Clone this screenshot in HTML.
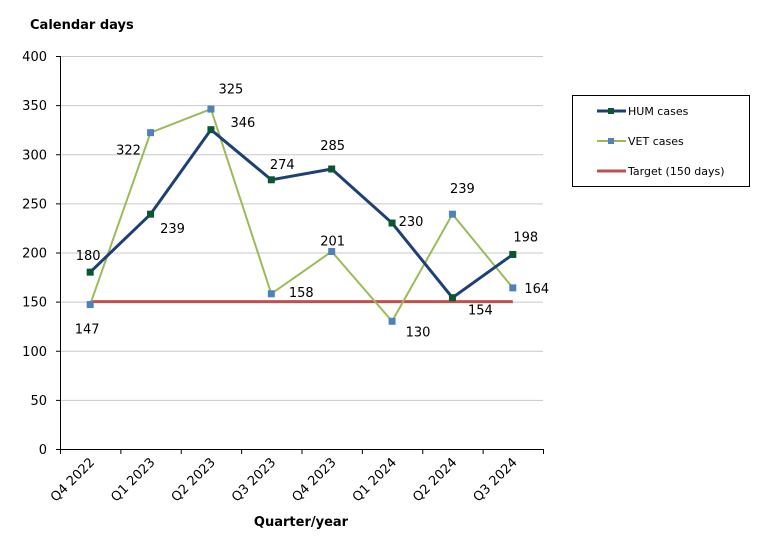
<!DOCTYPE html>
<html><head><meta charset="utf-8"><style>
body{margin:0;background:#fff;}
svg{display:block;font-family:"DejaVu Sans","Liberation Sans",sans-serif;}
</style></head><body>
<svg id="chart" width="779" height="538">
<text x="30" y="29" font-size="13" font-weight="bold">Calendar days</text>
<text x="301" y="526" font-size="13" font-weight="bold" text-anchor="middle">Quarter/year</text>
<g id="grid"></g><g id="axes"></g><g id="series"></g>
<g>
<rect x="572.5" y="95.5" width="177" height="91" fill="#fff" stroke="#000"/>
<g><line x1="597" y1="111" x2="626" y2="111" stroke="#1f3f77" stroke-width="3"/><rect x="608" y="108" width="6" height="6" fill="#0b5530"/><text x="628" y="115" font-size="11">HUM cases</text></g>
<g><line x1="597" y1="141" x2="626" y2="141" stroke="#9bbb59" stroke-width="2"/><rect x="608" y="138" width="6" height="6" fill="#4f81bd"/><text x="628" y="145" font-size="11">VET cases</text></g>
<g><line x1="597" y1="171" x2="626" y2="171" stroke="#c0504d" stroke-width="3"/><text x="628" y="175" font-size="11">Target (150 days)</text></g>
</g>
</svg>
<script>
const categories=["Q4 2022","Q1 2023","Q2 2023","Q3 2023","Q4 2023","Q1 2024","Q2 2024","Q3 2024"];
const humValues=[180,239,325,274,285,230,154,198];
const vetValues=[147,322,346,158,201,130,239,164];
const targetValue=150;
const yTicks=[0,50,100,150,200,250,300,350,400];
const humLabelOffsets=[[-2,-12],[22,19],[20,-36],[11,-11],[1,-19],[19,3],[28,17],[13,-13]];
const vetLabelOffsets=[[-3,29],[-22,22],[32,18],[30,3],[1,-6],[26,15],[10,-21],[24,5]];
const L=60,R=543,T=56,B=449,NS="http://www.w3.org/2000/svg";
const bw=(R-L)/categories.length;
function x(i){return L+bw*(i+0.5);}
function y(v){return B-(v/400)*(B-T);}
function mk(tag,attrs,parent,txt){const e=document.createElementNS(NS,tag);for(const k in attrs)e.setAttribute(k,attrs[k]);if(txt!==undefined)e.textContent=txt;parent.appendChild(e);return e;}
const grid=document.getElementById('grid'),axes=document.getElementById('axes'),ser=document.getElementById('series');
yTicks.forEach(t=>{
 if(t>0){const g=mk('line',{x1:L,x2:R,y1:y(t)+.5,y2:y(t)+.5,stroke:'#c8c8c8'},grid);
 
 }
 mk('line',{x1:L-4,x2:L,y1:y(t)+.5,y2:y(t)+.5,stroke:'#000'},axes);
 const tl=mk('text',{x:L-13,y:y(t)+5,'font-size':13,'text-anchor':'end'},axes,t);
 
 
});
mk('line',{x1:L+.5,x2:L+.5,y1:T,y2:B,stroke:'#000'},axes);
mk('line',{x1:L,x2:R,y1:B+.5,y2:B+.5,stroke:'#000'},axes);
for(let i=0;i<=categories.length;i++)mk('line',{x1:L+bw*i+.5,x2:L+bw*i+.5,y1:B,y2:B+5,stroke:'#000'},axes);
categories.forEach((c,i)=>{
 const t=mk('text',{x:0,y:0,'font-size':13,'text-anchor':'end',transform:`translate(${x(i)+5},${B+14}) rotate(-45)`},axes,c);
 
 
});
const tg=mk('line',{x1:x(0),x2:x(categories.length-1),y1:y(targetValue),y2:y(targetValue),stroke:'#c0504d','stroke-width':3},ser);


function series(vals,color,w,mcol,name,offs){
 const p=mk('polyline',{points:vals.map((v,i)=>x(i)+','+y(v)).join(' '),fill:'none',stroke:color,'stroke-width':w},ser);
 
 
 vals.forEach((v,i)=>{
  const m=mk('rect',{x:x(i)-3.5,y:y(v)-3.5,width:7,height:7,fill:mcol},ser);
  
  
  const l=mk('text',{x:x(i)+offs[i][0],y:y(v)+offs[i][1],'font-size':13,'text-anchor':'middle'},ser,v);
  
  
 });
}
series(vetValues,'#9bbb59',2,'#4f81bd','vet',vetLabelOffsets);
series(humValues,'#1f3f77',3,'#0b5530','hum',humLabelOffsets);
</script>
</body></html>
